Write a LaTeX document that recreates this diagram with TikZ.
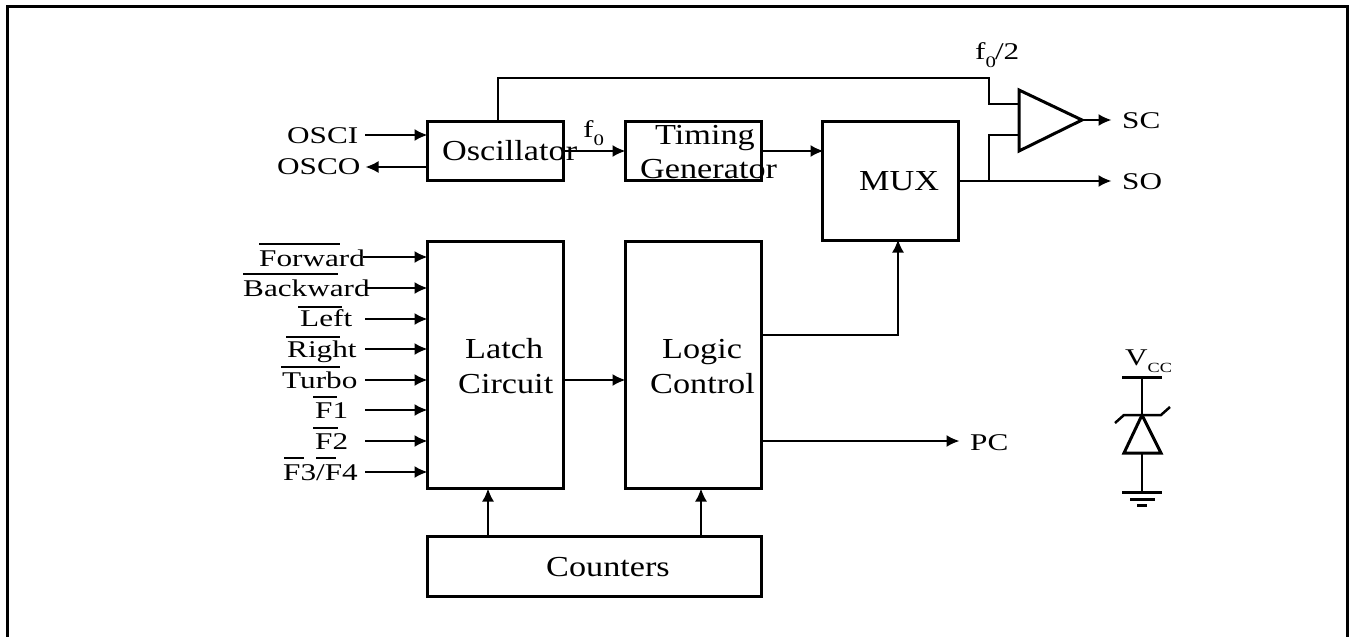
\documentclass[tikz,border=0pt]{standalone}
\usepackage{fontspec}
\usetikzlibrary{arrows.meta}
\setmainfont{Liberation Serif}
\newfontfamily\bigfont[FakeStretch=1.18]{Liberation Serif}
\newfontfamily\smallfont[FakeStretch=1.3]{Liberation Serif}
\newcommand{\lowtext}[1]{\raisebox{-8pt}{\fontsize{16}{16}\selectfont #1}}
\tikzset{
	blockbox/.style={draw,line width=3pt,inner sep=0pt,anchor=north west},
	sig/.style={line width=2pt,-{Latex[length=13pt,width=12pt]},shorten >=-1.5pt},
	wire/.style={line width=2pt},
	bigtext/.style={anchor=base west,inner sep=0pt,font=\bigfont\fontsize{29}{29}\selectfont},
	smalltext/.style={anchor=base west,inner sep=0pt,font=\smallfont\fontsize{24}{24}\selectfont},
	bar/.style={line width=1.5pt},
}
\begin{document}
\begin{tikzpicture}[x=1pt,y=-1pt]
	\useasboundingbox (0,0) rectangle (1349,637);
	\draw[line width=3pt] (7,637) -- (7,6) -- (1347,6) -- (1347,637);

	% blocks
	\node[blockbox,minimum width=136pt,minimum height=59pt] (oscillator) at (426,120) {};
	\node[blockbox,minimum width=136pt,minimum height=59pt] (timing) at (624,120) {};
	\node[blockbox,minimum width=136pt,minimum height=119pt] (mux) at (821,120) {};
	\node[blockbox,minimum width=136pt,minimum height=247pt] (latch) at (426,240) {};
	\node[blockbox,minimum width=136pt,minimum height=247pt] (logic) at (624,240) {};
	\node[blockbox,minimum width=334pt,minimum height=60pt] (counters) at (426,535) {};

	\node[bigtext] (osctext) at (442,160) {Oscillator};
	\node[bigtext] (timingtext) at (655,144) {Timing};
	\node[bigtext] (gentext) at (640,178) {Generator};
	\node[bigtext] (muxtext) at (859,190) {MUX};
	\node[bigtext] (latchtext) at (465,358) {Latch};
	\node[bigtext] (circuittext) at (458,393) {Circuit};
	\node[bigtext] (logictext) at (662,358) {Logic};
	\node[bigtext] (controltext) at (650,393) {Control};
	\node[bigtext] (counterstext) at (546,576) {Counters};

	% oscillator pins
	\node[smalltext] (osci) at (287,143) {OSCI};
	\node[smalltext] (osco) at (277,174) {OSCO};
	\coordinate (osciend) at (365,135);
	\coordinate (oscoend) at (367,167);
	\draw[sig] (osciend) -- (osciend -| oscillator.west);
	\draw[sig] (oscoend -| oscillator.west) -- (oscoend);

	% inputs of the latch
	\node[smalltext] (forward) at (259,266) {Forward};
	\node[smalltext] (backward) at (243,296) {Backward};
	\node[smalltext] (left) at (300,326) {Left};
	\node[smalltext] (right) at (287,357) {Right};
	\node[smalltext] (turbo) at (282,388) {Turbo};
	\node[smalltext] (fone) at (315,418) {F1};
	\node[smalltext] (ftwo) at (315,449) {F2};
	\node[smalltext] (fthree) at (283,480) {F3/F4};
	\draw[bar] (259,244) -- (340,244);
	\draw[bar] (243,274) -- (338,274);
	\draw[bar] (298,307) -- (342,307);
	\draw[bar] (286,337) -- (340,337);
	\draw[bar] (281,367) -- (340,367);
	\draw[bar] (313,397) -- (337,397);
	\draw[bar] (313,428) -- (338,428);
	\draw[bar] (284,458) -- (304,458);
	\draw[bar] (316,458) -- (336,458);
	\coordinate (forwardend) at (363,257);
	\coordinate (backwardend) at (365,288);
	\coordinate (leftend) at (365,319);
	\coordinate (rightend) at (365,349);
	\coordinate (turboend) at (365,380);
	\coordinate (foneend) at (365,410);
	\coordinate (ftwoend) at (365,441);
	\coordinate (fthreeend) at (365,472);
	\draw[sig] (forwardend) -- (forwardend -| latch.west);
	\draw[sig] (backwardend) -- (backwardend -| latch.west);
	\draw[sig] (leftend) -- (leftend -| latch.west);
	\draw[sig] (rightend) -- (rightend -| latch.west);
	\draw[sig] (turboend) -- (turboend -| latch.west);
	\draw[sig] (foneend) -- (foneend -| latch.west);
	\draw[sig] (ftwoend) -- (ftwoend -| latch.west);
	\draw[sig] (fthreeend) -- (fthreeend -| latch.west);

	% between blocks
	\node[smalltext] (fzero) at (583,137) {f\lowtext{0}};
	\coordinate (timingin) at (624,151);
	\coordinate (muxin) at (822,151);
	\draw[sig] (oscillator.east) -- (timingin);
	\draw[sig] (timing.east) -- (muxin);
	\coordinate (latchout) at (564,380);
	\draw[sig] (latchout) -- (latchout -| logic.west);
	\coordinate (logicout) at (762,335);
	\coordinate (muxbottom) at (898,241);
	\coordinate (pcend) at (958,441);
	\draw[sig] (logicout) -| (muxbottom);
	\draw[sig] (pcend -| logic.east) -- (pcend);
	\node[smalltext] (pc) at (970,450) {PC};
	\coordinate (leftup) at (488,536);
	\coordinate (rightup) at (701,536);
	\draw[sig] (leftup) -- (leftup |- latch.south);
	\draw[sig] (rightup) -- (rightup |- logic.south);

	% buffer
	\coordinate (buftop) at (1019,90);
	\coordinate (bufbottom) at (1019,151);
	\coordinate (buftip) at (1082,120);
	\coordinate (oscout) at (498,121);
	\coordinate (bufina) at (1019,104);
	\coordinate (bufinb) at (1019,135);
	\coordinate (branch) at (989,181);
	\coordinate (scend) at (1110,120);
	\coordinate (soend) at (1110,181);
	\draw[line width=3pt,line join=miter] (buftop) -- (buftip) -- (bufbottom) -- cycle;
	\draw[wire] (oscout) -- (498,78) -- (989,78) -- (989,104) -- (bufina);
	\draw[wire] (branch) -- (989,135) -- (bufinb);
	\draw[sig] (buftip) -- (scend);
	\draw[sig] (soend -| mux.east) -- (soend);
	\node[smalltext] (fhalf) at (975,59) {f\lowtext{0}\kern-1pt/2};
	\node[smalltext] (sc) at (1122,128) {SC};
	\node[smalltext] (so) at (1122,189) {SO};

	% zener
	\node[smalltext] (vcc) at (1125,365) {V\raisebox{-7pt}{\fontsize{14}{14}\selectfont CC}};
	\coordinate (vcctop) at (1142,377);
	\coordinate (zenertip) at (1142,415);
	\coordinate (zenerbase) at (1142,453);
	\coordinate (gnd) at (1142,492);
	\draw[line width=3pt] (1122,377) -- (1162,377);
	\draw[wire] (vcctop) -- (zenertip);
	\draw[line width=2.5pt] (1115,423) -- (1124,415) -- (1161,415) -- (1170,407);
	\draw[line width=3pt] (zenertip) -- (1124,453) -- (1161,453) -- cycle;
	\draw[wire] (zenerbase) -- (gnd);
	\draw[line width=3pt] (1122,492) -- (1162,492);
	\draw[line width=3pt] (1130,499) -- (1155,499);
	\draw[line width=3pt] (1137,505) -- (1147,505);
\end{tikzpicture}
\end{document}
